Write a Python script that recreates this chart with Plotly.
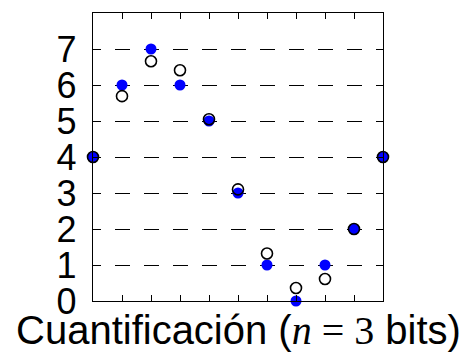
import plotly.graph_objects as go

x_vals = [0, 1, 2, 3, 4, 5, 6, 7, 8, 9, 10]
original = [4.0, 5.69, 6.66, 6.41, 5.05, 3.10, 1.32, 0.36, 0.61, 2.0, 4.0]
quantized = [4, 6, 7, 6, 5, 3, 1, 0, 1, 2, 4]
y_ticks = [0, 1, 2, 3, 4, 5, 6, 7]
x_title = "Cuantificación (<span style=\"font-family:'Liberation Serif'\"><i>n</i> = 3</span> bits)"

fig = go.Figure()
fig.add_trace(go.Scatter(
    x=x_vals, y=quantized, mode="markers", cliponaxis=False,
    marker=dict(size=11, color="#0000ff", line=dict(width=0)),
    showlegend=False))
fig.add_trace(go.Scatter(
    x=x_vals, y=original, mode="markers", cliponaxis=False,
    marker=dict(size=11, color="rgba(0,0,0,0)", line=dict(width=1.6, color="black")),
    showlegend=False))

fig.add_annotation(
    text=x_title, xref="paper", yref="paper", x=0.5, y=0,
    xanchor="center", yanchor="middle", yshift=-29, showarrow=False,
    font=dict(size=40, family="Liberation Sans, Arial, sans-serif", color="black"))

fig.update_layout(
    width=462, height=354,
    margin=dict(l=93, r=79, t=13, b=53),
    paper_bgcolor="white", plot_bgcolor="white",
    font=dict(family="Liberation Sans, Arial, sans-serif", color="black"),
    xaxis=dict(
        range=[0, 10], tickvals=x_vals, showticklabels=False,
        ticks="inside", ticklen=6, tickwidth=1.2, tickcolor="black",
        showline=True, linecolor="black", linewidth=1.3, mirror="ticks",
        showgrid=False, zeroline=False,
    ),
    yaxis=dict(
        range=[0, 8], tickvals=y_ticks, ticktext=[str(v) for v in y_ticks],
        ticks="inside", ticklen=5, tickwidth=1.2, tickcolor="black",
        tickfont=dict(size=36),
        showline=True, linecolor="black", linewidth=1.3, mirror="ticks",
        showgrid=True, gridcolor="black", gridwidth=1.2,
        griddash="7.5px,14px,7.5px,0px",
        zeroline=False, ticklabelstandoff=8,
    ),
)

fig.write_html("out.html")
